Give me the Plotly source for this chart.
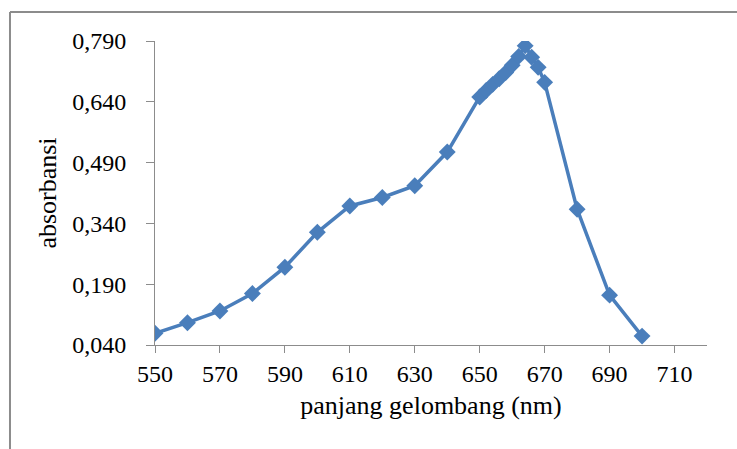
import plotly.graph_objects as go

# Absorption spectrum: wavelength (nm) vs absorbance
wavelength = [550, 560, 570, 580, 590, 600, 610, 620, 630, 640,
              650, 652, 654, 656, 658, 660, 662, 664, 666, 668, 670,
              680, 690, 700]
absorbance = [0.069, 0.095, 0.124, 0.167, 0.232, 0.318, 0.383, 0.404, 0.433, 0.516,
              0.652, 0.668, 0.683, 0.697, 0.712, 0.730, 0.752, 0.778, 0.750, 0.725, 0.688,
              0.375, 0.163, 0.062]

x_ticks = [550, 570, 590, 610, 630, 650, 670, 690, 710]
y_ticks = [0.040, 0.190, 0.340, 0.490, 0.640, 0.790]
y_tick_text = [f"{v:.3f}".replace(".", ",") for v in y_ticks]

line_blue = "#4a7ebb"
axis_grey = "#8c8c8c"
serif = "Liberation Serif"
tick_font = dict(family=serif, size=24, color="#000000")
title_font = dict(family=serif, size=26, color="#000000")

fig = go.Figure()
fig.add_trace(go.Scatter(
    x=wavelength, y=absorbance, mode="lines+markers",
    line=dict(color=line_blue, width=3.5),
    marker=dict(symbol="diamond", size=13, color=line_blue),
    showlegend=False,
))

fig.update_layout(
    width=737, height=449,
    margin=dict(l=155, r=30, t=41, b=104),
    paper_bgcolor="#ffffff", plot_bgcolor="#ffffff",
    font=tick_font,
    xaxis=dict(
        range=[550, 720], tickvals=x_ticks, ticktext=[str(v) for v in x_ticks],
        tickfont=tick_font,
        showgrid=False, zeroline=False, showline=True, linecolor=axis_grey, linewidth=1,
        ticks="outside", ticklen=7, tickcolor=axis_grey,
        title=dict(text="panjang gelombang (nm)", standoff=10, font=title_font),
    ),
    yaxis=dict(
        range=[0.04, 0.79], tickvals=y_ticks, ticktext=y_tick_text,
        tickfont=tick_font, ticklabelstandoff=15,
        showgrid=False, zeroline=False, showline=True, linecolor=axis_grey, linewidth=1,
        ticks="outside", ticklen=8, tickcolor=axis_grey,
        title=dict(text="absorbansi", standoff=8, font=title_font),
    ),
    shapes=[
        # outer chart frame (top and left edges)
        dict(type="line", xref="paper", yref="paper", x0=-0.2627, x1=1.1,
             y0=1.0954, y1=1.0954, line=dict(color=axis_grey, width=2)),
        dict(type="line", xref="paper", yref="paper", x0=-0.2627, x1=-0.2627,
             y0=1.0954, y1=-0.4, line=dict(color=axis_grey, width=2)),
    ],
)

fig.write_html("out.html")
